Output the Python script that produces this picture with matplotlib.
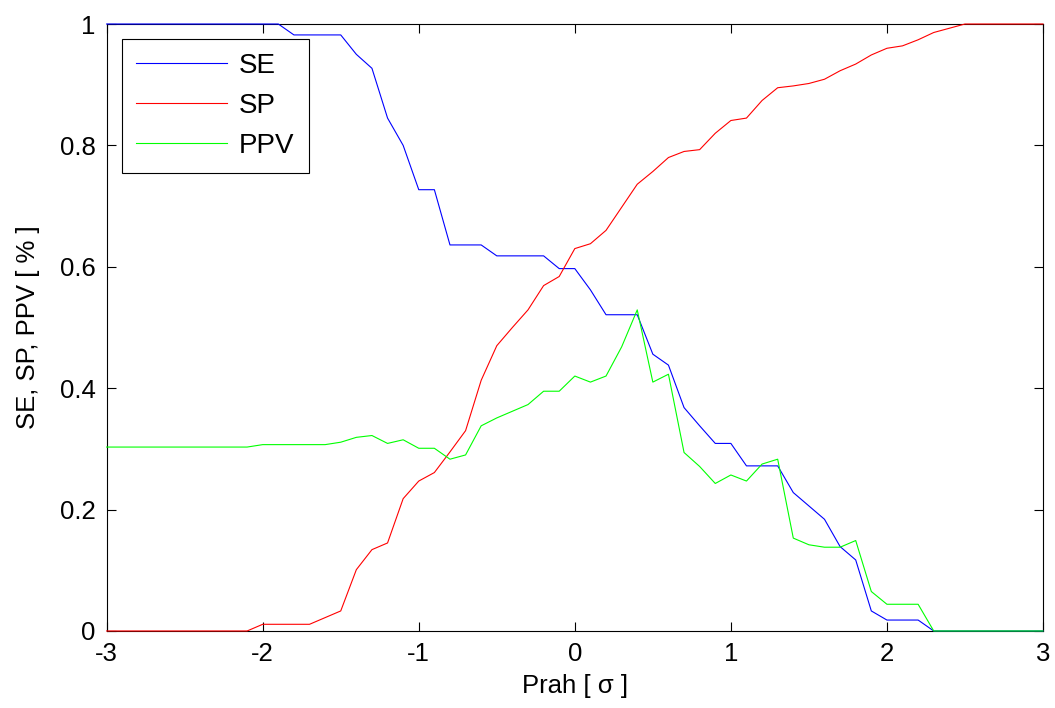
import numpy as np
import matplotlib
matplotlib.use("Agg")
import matplotlib.pyplot as plt

plt.rcParams['font.family'] = ['Liberation Sans', 'DejaVu Sans']

# Threshold in units of sigma, step 0.1
threshold = np.round(np.arange(-3.0, 3.0001, 0.1), 1)

se = [1, 1, 1, 1, 1, 1, 1, 1, 1, 1, 1, 1,
      0.982, 0.982, 0.982, 0.982,
      0.950, 0.927, 0.845, 0.800, 0.727, 0.727, 0.636, 0.636, 0.636,
      0.618, 0.618, 0.618, 0.618, 0.597, 0.597, 0.562, 0.521, 0.521, 0.521,
      0.456, 0.438, 0.368, 0.338, 0.309, 0.309, 0.272, 0.272, 0.272,
      0.228, 0.206, 0.184, 0.139, 0.117, 0.033, 0.018, 0.018, 0.018,
      0, 0, 0, 0, 0, 0, 0, 0]

sp = [0, 0, 0, 0, 0, 0, 0, 0, 0, 0,
      0.011, 0.011, 0.011, 0.011, 0.022, 0.033, 0.101, 0.134, 0.145,
      0.218, 0.247, 0.261, 0.295, 0.330, 0.413, 0.470, 0.500, 0.529,
      0.569, 0.584, 0.630, 0.638, 0.660, 0.698, 0.736, 0.757, 0.780,
      0.790, 0.793, 0.820, 0.841, 0.845, 0.874, 0.895, 0.898, 0.902,
      0.909, 0.923, 0.934, 0.949, 0.960, 0.964, 0.974, 0.986, 0.993,
      1, 1, 1, 1, 1, 1]

ppv = [0.303, 0.303, 0.303, 0.303, 0.303, 0.303, 0.303, 0.303, 0.303, 0.303,
       0.307, 0.307, 0.307, 0.307, 0.307,
       0.311, 0.319, 0.322, 0.309, 0.315, 0.301, 0.301, 0.283, 0.290,
       0.338, 0.351, 0.362, 0.373, 0.395, 0.395, 0.420, 0.410, 0.420,
       0.468, 0.529, 0.410, 0.423, 0.294, 0.271, 0.243, 0.257, 0.247,
       0.275, 0.283, 0.153, 0.142, 0.138, 0.138, 0.149, 0.065, 0.044,
       0.044, 0.044,
       0, 0, 0, 0, 0, 0, 0, 0]

x_ticks = [-3, -2, -1, 0, 1, 2, 3]
x_tick_labels = ['-3', '-2', '-1', '0', '1', '2', '3']
y_ticks = [0, 0.2, 0.4, 0.6, 0.8, 1]
y_tick_labels = ['0', '0.2', '0.4', '0.6', '0.8', '1']

fig = plt.figure(figsize=(10.55, 7.08), dpi=100)
ax = fig.add_axes([0.1011, 0.1088, 0.8875, 0.8573])

line_kw = dict(lw=0.8, clip_on=False, zorder=3)
ax.plot(threshold, se, color=(0, 0, 1), label='SE', **line_kw)
ax.plot(threshold, sp, color=(1, 0, 0), label='SP', **line_kw)
ax.plot(threshold, ppv, color=(0, 1, 0), label='PPV', **line_kw)

ax.set_xlim(-3, 3)
ax.set_ylim(0, 1)
ax.set_xticks(x_ticks)
ax.set_xticklabels(x_tick_labels)
ax.set_yticks(y_ticks)
ax.set_yticklabels(y_tick_labels)
ax.tick_params(direction='in', length=6.5, width=0.8, labelsize=18.5,
               top=True, right=True, pad=8)
for s in ax.spines.values():
    s.set_linewidth(0.8)

ax.set_xlabel('Prah [ σ ]', fontsize=18.5, labelpad=6)
ax.set_ylabel('SE, SP, PPV [ % ]', fontsize=18.5, labelpad=14)

leg = ax.legend(loc='upper left', bbox_to_anchor=(0.016, 0.975), borderaxespad=0,
                fontsize=20, handlelength=3.3, handletextpad=0.43,
                labelspacing=0.5, borderpad=0.5, fancybox=False, framealpha=1)
leg.get_frame().set_edgecolor('black')
leg.get_frame().set_linewidth(0.8)
leg.set_zorder(5)

fig.savefig('out.png', dpi=100)
